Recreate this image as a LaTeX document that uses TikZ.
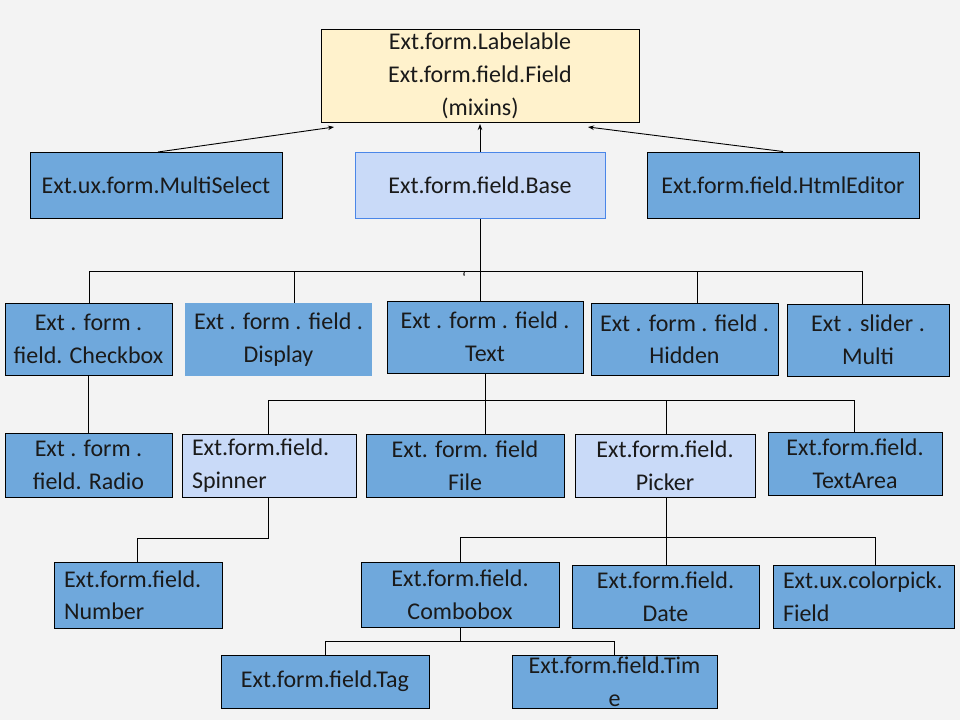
\documentclass[tikz,border=0pt]{standalone}
\usepackage{fontspec}
\setmainfont{Carlito}
\usetikzlibrary{arrows.meta}
\definecolor{bg}{HTML}{F3F3F3}
\definecolor{dk}{HTML}{6FA8DC}
\definecolor{lt}{HTML}{C9DAF8}
\definecolor{yl}{HTML}{FFF2CC}
\definecolor{bb}{HTML}{4A86E8}
\definecolor{tx}{HTML}{1A1A1A}
\begin{document}
\begin{tikzpicture}[x=1pt,y=-1pt,
  box/.style={draw=black, line width=1pt, fill=dk, inner sep=0pt, align=center,
    font=\fontsize{24}{32.5}\selectfont, text=tx},
  lbox/.style={box, align=left, inner xsep=10pt},
  light/.style={fill=lt},
  conn/.style={draw=black, line width=1pt},
  arr/.style={draw=black, line width=0.9pt, -{Stealth[length=6pt,width=4.5pt]}}]
\useasboundingbox[fill=bg] (0,0) rectangle (960,720);

% top
\node[box, fill=yl, minimum width=318, minimum height=93, font=\fontsize{24}{33}\selectfont] (top) at (480,75.5)
  {Ext.form.Labelable\\Ext.form.field.Field\\(mixins)};
% row 1
\node[box, minimum width=252, minimum height=66] (ms) at (156,185) {Ext.ux.form.MultiSelect};
\node[box, light, draw=bb, minimum width=250, minimum height=66] (base) at (480,185) {Ext.form.field.Base};
\node[box, minimum width=272, minimum height=66] (html) at (783,185) {Ext.form.field.HtmlEditor};
% row 2
\node[box, minimum width=167, minimum height=72] (checkbox) at (88.5,339) {Ext . form .\\field. Checkbox};
\node[box, draw=none, minimum width=187, minimum height=73] (display) at (278.5,339.5) {Ext . form . field .\\Display};
\node[box, minimum width=196, minimum height=72] (text) at (485,337) {Ext . form . field .\\Text};
\node[box, minimum width=187, minimum height=72] (hidden) at (684.5,339) {Ext . form . field .\\Hidden};
\node[box, minimum width=162, minimum height=72] (multi) at (868,340) {Ext . slider .\\Multi};
% row 3
\node[box, minimum width=167, minimum height=64] (radio) at (88.5,465) {Ext . form .\\field. Radio};
\node[lbox, light, text width=154, minimum height=63] (spinner) at (269,465.5) {Ext.form.field.\\Spinner};
\node[box, minimum width=198, minimum height=63] (file) at (465,465.5) {Ext. form. field\\File};
\node[box, light, minimum width=180, minimum height=63] (picker) at (665,465.5) {Ext.form.field.\\Picker};
\node[box, minimum width=174, minimum height=63] (textarea) at (855,463.5) {Ext.form.field.\\TextArea};
% row 4
\node[lbox, text width=148, minimum height=66] (number) at (138,595) {Ext.form.field.\\Number};
\node[box, minimum width=198, minimum height=65] (combo) at (460,594.5) {Ext.form.field.\\Combobox};
\node[box, minimum width=187, minimum height=63] (date) at (665.5,596.5) {Ext.form.field.\\Date};
\node[lbox, text width=161, minimum height=63] (colorpick) at (863.5,596.5) {Ext.ux.colorpick.\\Field};
% row 5
\node[box, minimum width=208, minimum height=53] (tag) at (325,681.5) {Ext.form.field.Tag};
\node[box, minimum width=205, minimum height=53] (time) at (614.5,681.5) {Ext.form.field.Tim\\e};

% stray mark
\node[inner sep=0pt, font=\fontsize{16}{20}\selectfont] (tick) at (464,278) {\char"60};

% arrows to top
\coordinate (a1) at (334,127);
\coordinate (a2) at (588,127);
\coordinate (a3) at (480,124);
\coordinate (s1) at (158,152);
\draw[arr] (s1) -- (a1);
\draw[arr] (html.north) -- (a2);
\draw[arr] (base.north) -- (a3);

% base bus
\coordinate (b1) at (89,271);
\coordinate (b2) at (294,271);
\coordinate (b3) at (697,271);
\coordinate (b4) at (862,271);
\draw[conn] (b1) -- (b4);
\draw[conn] (base.south) -- (base.south |- text.north);
\draw[conn] (b1) -- (b1 |- checkbox.north);
\draw[conn] (b2) -- (b2 |- display.north);
\draw[conn] (b3) -- (b3 |- hidden.north);
\draw[conn] (b4) -- (b4 |- multi.north);
\draw[conn] (checkbox.south) -- (radio.north);

% text bus
\coordinate (t1) at (268,400);
\coordinate (t2) at (666,400);
\coordinate (t3) at (854,400);
\draw[conn] (t1) -- (t3);
\draw[conn] (text.south) -- (text.south |- file.north);
\draw[conn] (t1) -- (t1 |- spinner.north);
\draw[conn] (t2) -- (t2 |- picker.north);
\draw[conn] (t3) -- (t3 |- textarea.north);

% spinner -> number
\coordinate (n1) at (268,538);
\coordinate (n2) at (137,538);
\draw[conn] (n1 |- spinner.south) -- (n1) -- (n2) -- (n2 |- number.north);

% picker bus
\coordinate (p1) at (460,537);
\coordinate (p2) at (666,537);
\coordinate (p3) at (875,537);
\draw[conn] (p1) -- (p3);
\draw[conn] (p2 |- picker.south) -- (p2 |- date.north);
\draw[conn] (p1) -- (p1 |- combo.north);
\draw[conn] (p3) -- (p3 |- colorpick.north);

% combo bus
\coordinate (c1) at (325,641);
\coordinate (c2) at (614,641);
\draw[conn] (combo.south) -- (combo.south |- c1);
\draw[conn] (c1) -- (c2);
\draw[conn] (c1) -- (c1 |- tag.north);
\draw[conn] (c2) -- (c2 |- time.north);
\end{tikzpicture}
\end{document}
